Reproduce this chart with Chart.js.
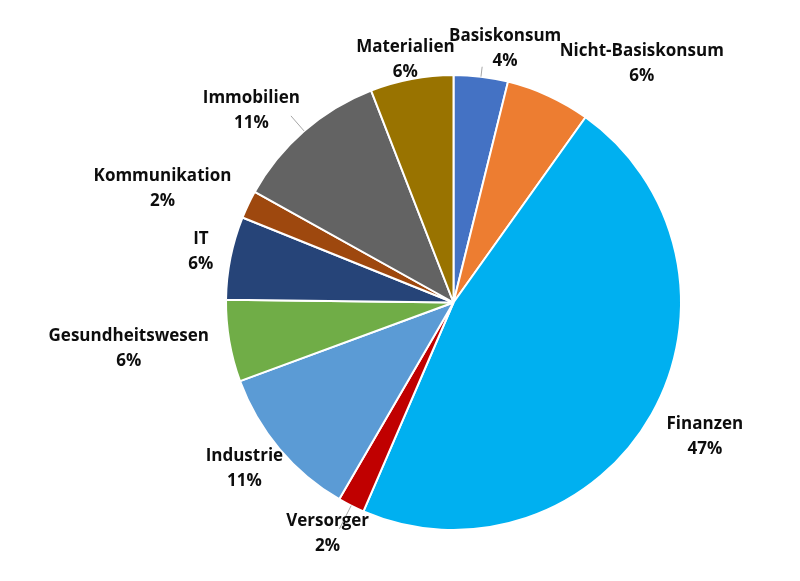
<!DOCTYPE html>
<html>
<head>
<meta charset="utf-8">
<script src="https://cdn.jsdelivr.net/npm/chart.js@4"></script>
<style>
  html, body { margin: 0; padding: 0; background: #fff; }
  #wrap { width: 800px; height: 581px; }
</style>
</head>
<body>
<div id="wrap"><canvas id="myChart" width="800" height="581"></canvas></div>
<script>
// sectors, clockwise from 12 o'clock
const sectors = ['Basiskonsum', 'Nicht-Basiskonsum', 'Finanzen', 'Versorger', 'Industrie',
    'Gesundheitswesen', 'IT', 'Kommunikation', 'Immobilien', 'Materialien']
const weights = [3.85, 6.0, 46.6, 1.9, 11.0, 5.8, 5.9, 2.0, 11.0, 5.9]
const colors = ['#4472C4', '#ED7D31', '#00B0F0', '#C00000', '#5B9BD5',
    '#70AD47', '#264478', '#9E480E', '#636363', '#997300']

// label placement: [angle shift in degrees, distance as share of radius, leader length]
const placement = [
    [4.5, 1.145, 10], [13.4, 1.342, 0], [-1.5, 1.25, 0], [2.0, 1.151, 26], [1.8, 1.17, 0],
    [1.9, 1.441, 0], [0.4, 1.134, 0], [-3.9, 1.376, 0], [-5.2, 1.23, 20], [-0.5, 1.096, 0]
]

const total = weights.reduce((a, b) => a + b, 0)

const outsideLabels = {
    id: 'outsideLabels',
    afterDatasetsDraw(chart) {
        const ctx = chart.ctx
        const meta = chart.getDatasetMeta(0)
        ctx.save()
        meta.data.forEach((arc, i) => {
            const { x, y, startAngle, endAngle, outerRadius } = arc.getProps(['x', 'y', 'startAngle', 'endAngle', 'outerRadius'], true)
            const mid = (startAngle + endAngle) / 2
            const [dA, f, lead] = placement[i]
            if (lead > 0) {
                ctx.strokeStyle = '#A6A6A6'
                ctx.lineWidth = 1
                ctx.beginPath()
                ctx.moveTo(x + Math.cos(mid) * outerRadius, y + Math.sin(mid) * outerRadius)
                ctx.lineTo(x + Math.cos(mid) * (outerRadius + lead), y + Math.sin(mid) * (outerRadius + lead))
                ctx.stroke()
            }
            const a = mid + dA * Math.PI / 180
            const lx = x + Math.cos(a) * outerRadius * f
            const ly = y + Math.sin(a) * outerRadius * f + 1.5
            ctx.fillStyle = '#0D0D0D'
            ctx.font = 'bold 17px "Open Sans", Lato, sans-serif'
            ctx.textAlign = 'center'
            ctx.textBaseline = 'middle'
            ctx.fillText(sectors[i], lx, ly - 12.5)
            ctx.fillText(Math.round(weights[i] / total * 100) + '%', lx, ly + 12.5)
        })
        ctx.restore()
    }
}

const ctx = document.getElementById('myChart')
new Chart(ctx, {
    type: 'pie',
    data: {
        labels: sectors,
        datasets: [{
            data: weights,
            backgroundColor: colors,
            borderColor: '#ffffff',
            borderWidth: 2
        }]
    },
    options: {
        responsive: false,
        animation: false,
        layout: {
            padding: { left: 225, right: 118, top: 74, bottom: 50 }
        },
        plugins: {
            legend: { display: false },
            tooltip: { enabled: false }
        }
    },
    plugins: [outsideLabels]
})
</script>
</body>
</html>
